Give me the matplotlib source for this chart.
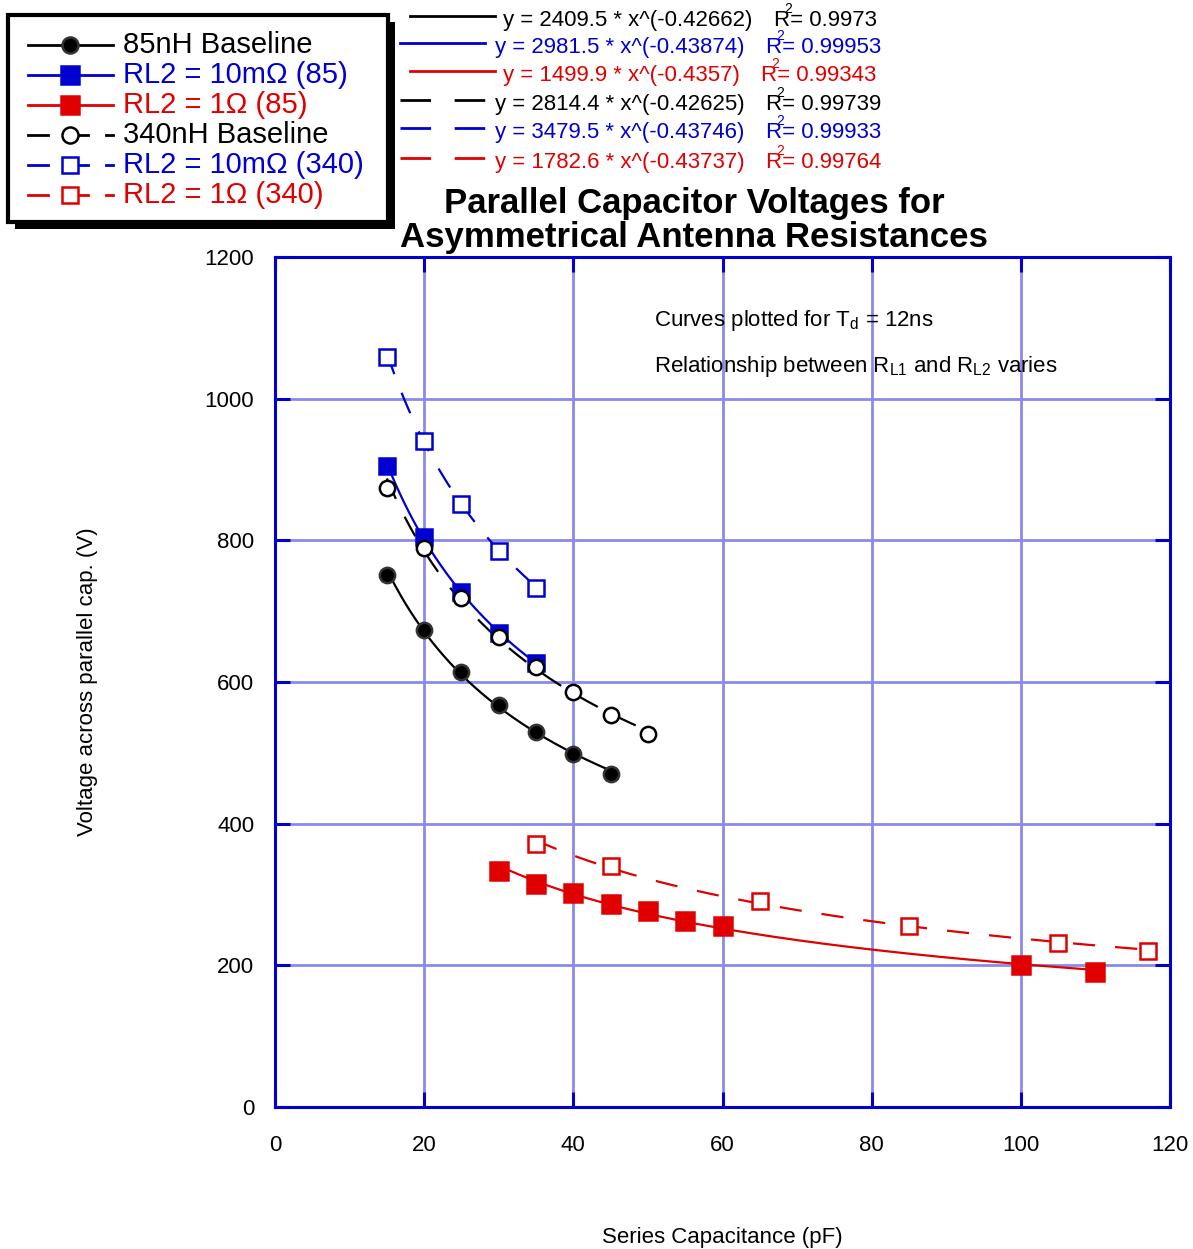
import matplotlib
matplotlib.use("Agg")
import matplotlib.pyplot as plt
import numpy as np
from matplotlib.patches import Rectangle

plt.rcParams['font.family'] = ['Liberation Sans', 'DejaVu Sans']
plt.rcParams['mathtext.fontset'] = 'custom'
plt.rcParams['mathtext.rm'] = 'Liberation Sans'
plt.rcParams['mathtext.it'] = 'Liberation Sans'

BLUE = '#0000d0'
RED = '#e00000'
GRID = '#8a8aee'

# measured points
x_85_base = [15, 20, 25, 30, 35, 40, 45]
y_85_base = [751, 673, 614, 568, 529, 498, 470]
x_85_10m = [15, 20, 25, 30, 35]
y_85_10m = [905, 805, 727, 669, 627]
x_85_1 = [30, 35, 40, 45, 50, 55, 60, 100, 110]
y_85_1 = [333, 315, 302, 287, 277, 263, 256, 200, 191]
x_340_base = [15, 20, 25, 30, 35, 40, 45, 50]
y_340_base = [874, 789, 719, 664, 621, 586, 553, 527]
x_340_10m = [15, 20, 25, 30, 35]
y_340_10m = [1059, 940, 851, 785, 733]
x_340_1 = [35, 45, 65, 85, 105, 117]
y_340_1 = [371, 340, 291, 256, 232, 220]

# power-law fits printed on the chart: y = a * x^b
fit_a = [2409.5, 2981.5, 1499.9, 2814.4, 3479.5, 1782.6]
fit_b = [-0.42662, -0.43874, -0.4357, -0.42625, -0.43746, -0.43737]
fit_r2 = ['0.9973', '0.99953', '0.99343', '0.99739', '0.99933', '0.99764']
fit_a_txt = ['2409.5', '2981.5', '1499.9', '2814.4', '3479.5', '1782.6']
fit_b_txt = ['-0.42662', '-0.43874', '-0.4357', '-0.42625', '-0.43746', '-0.43737']

labels = ['85nH Baseline', 'RL2 = 10m\u03a9 (85)', 'RL2 = 1\u03a9 (85)',
          '340nH Baseline', 'RL2 = 10m\u03a9 (340)', 'RL2 = 1\u03a9 (340)']

W, H = 1193, 1249
fig = plt.figure(figsize=(W / 100, H / 100), dpi=100)
ax = fig.add_axes([275 / W, 1 - 1107 / H, 895 / W, 850 / H])

series = [
    (x_85_base, y_85_base, 'k', 'o', 'k', 11, 'solid'),
    (x_85_10m, y_85_10m, BLUE, 's', BLUE, 12, 'solid'),
    (x_85_1, y_85_1, RED, 's', RED, 12.5, 'solid'),
    (x_340_base, y_340_base, 'k', 'o', 'white', 11, 'dashed'),
    (x_340_10m, y_340_10m, BLUE, 's', 'white', 11.5, 'dashed'),
    (x_340_1, y_340_1, RED, 's', 'white', 11.5, 'dashed'),
]

for i, (xs, ys, col, mk, fc, ms, ls) in enumerate(series):
    xf = np.linspace(min(xs), max(xs), 200)
    yf = fit_a[i] * xf ** fit_b[i]
    line, = ax.plot(xf, yf, color=col, lw=1.6, zorder=2)
    if ls == 'dashed':
        line.set_dashes((10, 9))
    ax.plot(xs, ys, linestyle='none', marker=mk, ms=ms, mfc=fc,
            mec=col if fc != 'k' else '#333333', mew=1.8, zorder=3)

ax.set_xlim(0, 120)
ax.set_ylim(0, 1200)
ax.set_xticks(np.arange(0, 121, 20))
ax.set_yticks(np.arange(0, 1201, 200))
ax.grid(True, color=GRID, lw=2, zorder=0)
ax.set_axisbelow(True)
for s in ax.spines.values():
    s.set_color(BLUE)
    s.set_linewidth(2.2)
ax.tick_params(direction='in', length=11, width=2.2, color=BLUE,
               top=True, right=True, labelsize=16)
ax.tick_params(axis='y', pad=15)
ax.tick_params(axis='x', pad=20)
ax.set_xlabel('Series Capacitance (pF)', fontsize=16, va='center')
ax.xaxis.set_label_coords(0.5, -(1237 - 1107) / 850)
ax.set_ylabel('Voltage across parallel cap. (V)', fontsize=16, va='center')
ax.yaxis.set_label_coords(-(275 - 88) / 895, 0.5)

ax.text(0.423, 0.925, 'Curves plotted for T$_{\\rm d}$ = 12ns',
        transform=ax.transAxes, fontsize=16, va='center')
ax.text(0.423, 0.871, 'Relationship between R$_{\\rm L1}$ and R$_{\\rm L2}$ varies',
        transform=ax.transAxes, fontsize=16, va='center')

# overlay in pixel coordinates for legend, equations and title
ov = fig.add_axes([0, 0, 1, 1], zorder=5)
ov.set_xlim(0, W)
ov.set_ylim(H, 0)
ov.axis('off')

ov.text(694, 203, 'Parallel Capacitor Voltages for', fontsize=25,
        fontweight='bold', ha='center', va='center')
ov.text(694, 237, 'Asymmetrical Antenna Resistances', fontsize=25,
        fontweight='bold', ha='center', va='center')

# legend box with shadow
ov.add_patch(Rectangle((15, 22), 380, 207, facecolor='black', edgecolor='none'))
ov.add_patch(Rectangle((8, 15), 380, 207, facecolor='white', edgecolor='black', lw=3))
for i, (xs, ys, col, mk, fc, ms, ls) in enumerate(series):
    yy = 45 + 30 * i
    if ls == 'solid':
        ov.plot([28, 113], [yy, yy], color=col, lw=2)
    else:
        ov.plot([28, 48], [yy, yy], color=col, lw=2)
        ov.plot([70, 88], [yy, yy], color=col, lw=2)
        ov.plot([106, 113], [yy, yy], color=col, lw=2)
    ov.plot([70], [yy], marker=mk, ms=ms * 1.05, mfc=fc,
            mec=col if fc != 'k' else '#333333', mew=1.8, linestyle='none')
    ov.text(123, yy, labels[i], fontsize=21, color=col, va='center')

# fit equations
eq_rows = [
    (20, 410, 495, 503, 774, 'k', 'solid'),
    (47, 400, 485, 495, 766, BLUE, 'solid'),
    (75, 410, 495, 503, 761, RED, 'solid'),
    (104, 400, 490, 495, 766, 'k', 'dashed'),
    (132, 400, 490, 495, 766, BLUE, 'dashed'),
    (162, 400, 490, 495, 766, RED, 'dashed'),
]
for i, (yy, x0, x1, xt, xr, col, ls) in enumerate(eq_rows):
    line, = ov.plot([x0, x1], [yy - 4, yy - 4], color=col, lw=2)
    if ls == 'dashed':
        line.set_dashes((11, 8.5))
    ov.text(xt, yy, 'y = %s * x^(%s)' % (fit_a_txt[i], fit_b_txt[i]),
            fontsize=16, color=col, va='center')
    ov.text(xr, yy, 'R= %s' % fit_r2[i], fontsize=16, color=col, va='center')
    ov.text(xr + 10, yy - 11, '2', fontsize=10, color=col, va='center')

fig.savefig('out.png', dpi=100)
